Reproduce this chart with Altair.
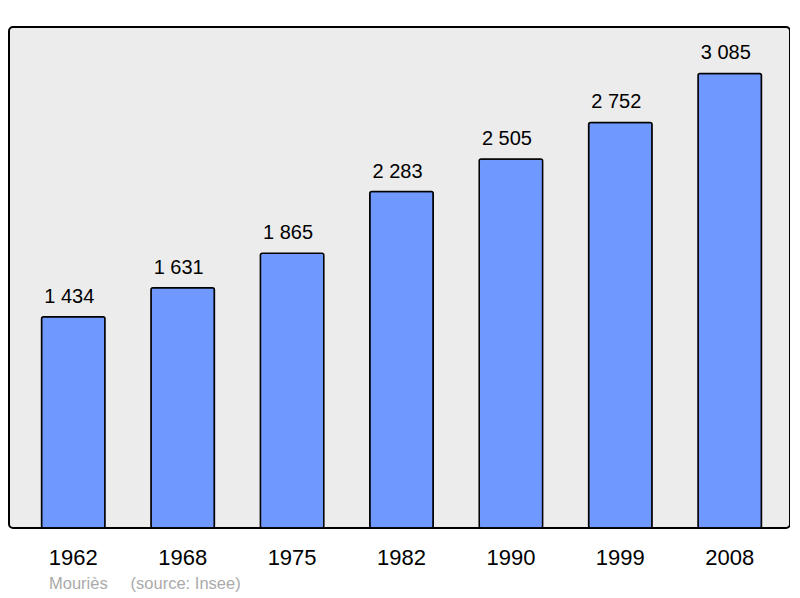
import altair as alt
import pandas as pd

years = ["1962", "1968", "1975", "1982", "1990", "1999", "2008"]
population = [1434, 1631, 1865, 2283, 2505, 2752, 3085]
labels = ["1 434", "1 631", "1 865", "2 283", "2 505", "2 752", "3 085"]

df = pd.DataFrame({"year": years, "pop": population, "label": labels})

FONT = "Liberation Sans"

x = alt.X("year:N", sort=years, title=None,
          scale=alt.Scale(paddingInner=0.42, paddingOuter=0.279, align=0.533),
          axis=alt.Axis(labelAngle=0, ticks=False, domain=False, labelFontSize=22,
                        labelFont=FONT, labelColor="#000000", labelBaseline="alphabetic",
                        labelPadding=36))
y = alt.Y("pop:Q", scale=alt.Scale(domain=[0, 3400], nice=False), axis=None)

bars = alt.Chart(df).mark_bar(color="#7099ff", stroke="#000000", strokeWidth=1.5,
                              cornerRadius=2).encode(x=x, y=y)
text = alt.Chart(df).mark_text(baseline="alphabetic", dy=-14, dx=-4, fontSize=20, font=FONT,
                               color="#000000").encode(x=x, y=y, text="label:N")

chart = alt.layer(bars, text).properties(
    width=781, height=501,
    autosize=alt.AutoSizeParams(type="none"),
    padding={"left": 1, "top": 19, "right": 0, "bottom": 80},
    background="#ffffff",
    title=alt.TitleParams("Mouriès\u00a0\u00a0\u00a0\u00a0\u00a0(source: Insee)", orient="bottom",
                          anchor="start", fontSize=16.5, font=FONT, color="#aaaaaa",
                          fontWeight="normal", dx=40, offset=8),
).configure_view(fill="#ececec", stroke="#000000", strokeWidth=2, cornerRadius=4)

chart.save("out.html", embed_options={"renderer": "svg", "actions": False})
